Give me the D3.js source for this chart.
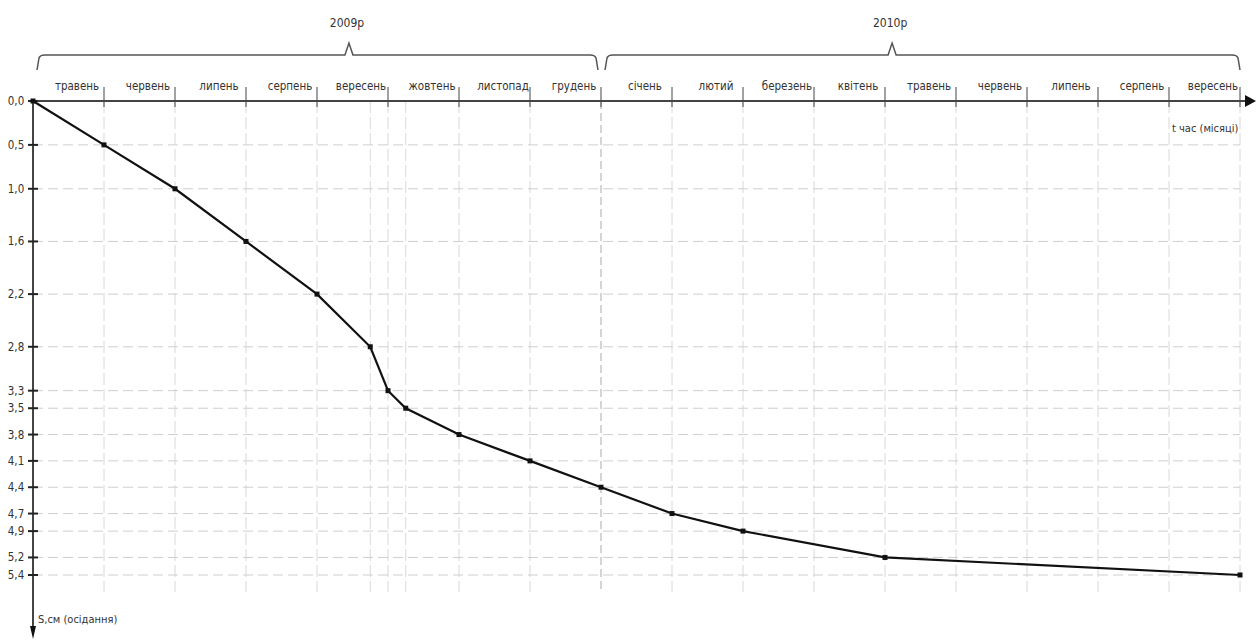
<!DOCTYPE html>
<html>
<head>
<meta charset="utf-8">
<script src="https://cdn.jsdelivr.net/npm/d3@7"></script>
<style>
  body { margin: 0; background: #fff; }
  svg text { font-family: "Liberation Sans Narrow", "DejaVu Sans Condensed", "Liberation Sans", sans-serif; fill: #333; }
</style>
</head>
<body>
<svg id="chart" width="1258" height="643"></svg>
<script>
// time from start of observations, months
const months = [0, 1, 2, 3, 4, 4.75, 5, 5.25, 6, 7, 8, 9, 10, 12, 17];
// settlement, cm
const settlement = [0, 0.5, 1.0, 1.6, 2.2, 2.8, 3.3, 3.5, 3.8, 4.1, 4.4, 4.7, 4.9, 5.2, 5.4];

const monthLabels = ['травень', 'червень', 'липень', 'серпень', 'вересень', 'жовтень', 'листопад', 'грудень',
  'січень', 'лютий', 'березень', 'квітень', 'травень', 'червень', 'липень', 'серпень', 'вересень'];

const yearLabels = ['2009р', '2010р'];
const yearFrom = [0, 8];
const yearTo = [8, 17];
const yearPeak = [4.45, 12.1];

const svg = d3.select('#chart');

const x = d3.scaleLinear().domain([0, 17]).range([33, 1240]);
const y = d3.scaleLinear().domain([0, 5.4]).range([101, 575]);

const axisY = y(0);
const gridBottom = 592;

// vertical grid: month boundaries and measurement dates
const vLines = Array.from(new Set(d3.range(1, 18).concat(months.filter(m => m > 0))));
svg.append('g')
  .selectAll('line')
  .data(vLines)
  .enter().append('line')
  .attr('x1', d => x(d)).attr('x2', d => x(d))
  .attr('y1', axisY).attr('y2', gridBottom)
  .style('stroke', d => d === 8 ? '#aaa' : '#d8d8d8')
  .style('stroke-width', 1)
  .style('stroke-dasharray', d => d === 8 ? '8,4' : '12,4');

// horizontal grid at every measured value
svg.append('g')
  .selectAll('line')
  .data(settlement.filter(v => v > 0))
  .enter().append('line')
  .attr('x1', x(0)).attr('x2', x(17))
  .attr('y1', d => y(d)).attr('y2', d => y(d))
  .style('stroke', '#cfcfcf')
  .style('stroke-width', 1)
  .style('stroke-dasharray', '10,5');

// axes
svg.append('line')
  .attr('x1', x(0)).attr('x2', 1248)
  .attr('y1', axisY).attr('y2', axisY)
  .style('stroke', '#444').style('stroke-width', 2);
svg.append('path')
  .attr('d', `M1256,${axisY} L1245,${axisY - 6} L1245,${axisY + 6} Z`)
  .style('fill', '#111');

svg.append('line')
  .attr('x1', x(0)).attr('x2', x(0))
  .attr('y1', axisY).attr('y2', 630)
  .style('stroke', '#444').style('stroke-width', 2);
svg.append('path')
  .attr('d', `M${x(0)},639 L${x(0) - 3},626 L${x(0) + 3},626 Z`)
  .style('fill', '#111');

// month ticks on the time axis
svg.append('g')
  .selectAll('line')
  .data(d3.range(1, 18))
  .enter().append('line')
  .attr('x1', d => x(d)).attr('x2', d => x(d))
  .attr('y1', axisY - 14).attr('y2', axisY + 6)
  .style('stroke', '#444').style('stroke-width', 1);

// month labels
svg.append('g')
  .selectAll('text')
  .data(monthLabels)
  .enter().append('text')
  .attr('x', (d, i) => x(i + 0.62))
  .attr('y', axisY - 11)
  .attr('text-anchor', 'middle')
  .style('font-size', '11.5px')
  .text(d => d);

// year braces
yearLabels.forEach((label, i) => {
  const x0 = x(yearFrom[i]) + 4;
  const x1 = x(yearTo[i]) - (i === 0 ? 3 : 0);
  const xp = x(yearPeak[i]);
  const yb = 55;
  const path = d3.path();
  path.moveTo(x0, yb + 15);
  path.lineTo(x0 + 2, yb + 3);
  path.quadraticCurveTo(x0 + 3, yb, x0 + 8, yb);
  path.lineTo(xp - 4, yb);
  path.lineTo(xp, yb - 12);
  path.lineTo(xp + 4, yb);
  path.lineTo(x1 - 8, yb);
  path.quadraticCurveTo(x1 - 3, yb, x1 - 2, yb + 3);
  path.lineTo(x1, yb + 15);
  svg.append('path')
    .attr('d', path.toString())
    .style('fill', 'none')
    .style('stroke', '#555')
    .style('stroke-width', 1.5);
  svg.append('text')
    .attr('x', xp - 2)
    .attr('y', 27)
    .attr('text-anchor', 'middle')
    .style('font-size', '12px')
    .text(label);
});

// settlement ticks and labels
svg.append('g')
  .selectAll('line')
  .data(settlement)
  .enter().append('line')
  .attr('x1', x(0) - 5).attr('x2', x(0) + 5)
  .attr('y1', d => y(d)).attr('y2', d => y(d))
  .style('stroke', '#222').style('stroke-width', 2);

svg.append('g')
  .selectAll('text')
  .data(settlement)
  .enter().append('text')
  .attr('x', 16)
  .attr('y', d => y(d) + 4)
  .attr('text-anchor', 'middle')
  .style('font-size', '11.5px')
  .text(d => d3.format('.1f')(d).replace('.', ','));

// settlement curve
const line = d3.line()
  .x(d => x(d[0]))
  .y(d => y(d[1]));
const pts = months.map((m, i) => [m, settlement[i]]);

svg.append('path')
  .datum(pts)
  .attr('d', line)
  .style('fill', 'none')
  .style('stroke', '#111')
  .style('stroke-width', 2.2);

svg.append('g')
  .selectAll('rect')
  .data(pts)
  .enter().append('rect')
  .attr('x', d => x(d[0]) - 2.5)
  .attr('y', d => y(d[1]) - 2.5)
  .attr('width', 5).attr('height', 5)
  .style('fill', '#111');

// axis titles
svg.append('text')
  .attr('x', 1172).attr('y', 132)
  .style('font-size', '11px')
  .text('t час (місяці)');

svg.append('text')
  .attr('x', 38).attr('y', 623)
  .style('font-size', '11px')
  .text('S,см (осідання)');
</script>
</body>
</html>
